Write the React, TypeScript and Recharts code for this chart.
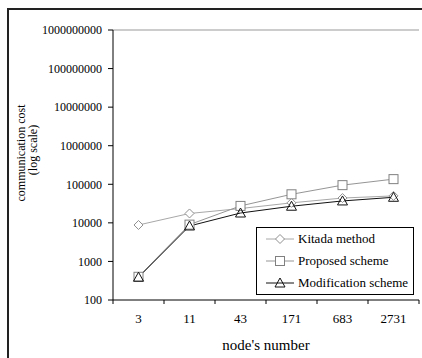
import React from 'react';
import { LineChart, Line, XAxis, YAxis, Legend, ReferenceLine } from 'recharts';

const nodes = ['3', '11', '43', '171', '683', '2731'];
const kitada = [8800, 17500, 23500, 33000, 44000, 50000];
const proposed = [400, 9000, 27500, 55000, 95000, 136000];
const modification = [390, 8300, 18000, 27000, 37000, 46000];
const yTicks = [1e2, 1e3, 1e4, 1e5, 1e6, 1e7, 1e8, 1e9];

const data = nodes.map((n, i) => ({
  node: n,
  kitada: kitada[i],
  proposed: proposed[i],
  modification: modification[i],
}));

const FONT = '"Liberation Serif", "Times New Roman", serif';
const HALF_BAND = 25.5;

type Shape = 'diamond' | 'square' | 'triangle';

const series: { key: string; name: string; line: string; mark: string; shape: Shape }[] = [
  { key: 'kitada', name: 'Kitada method', line: '#a8a8a8', mark: '#909090', shape: 'diamond' },
  { key: 'proposed', name: 'Proposed scheme', line: '#959595', mark: '#808080', shape: 'square' },
  { key: 'modification', name: 'Modification scheme', line: '#111', mark: '#111', shape: 'triangle' },
];

const Marker = ({ cx, cy, shape, color }: { cx: number; cy: number; shape: Shape; color: string }) => {
  if (shape === 'diamond') {
    return (
      <polygon
        points={`${cx},${cy - 4.5} ${cx + 4.5},${cy} ${cx},${cy + 4.5} ${cx - 4.5},${cy}`}
        fill="#fff"
        stroke={color}
      />
    );
  }
  if (shape === 'square') {
    return <rect x={cx - 4.5} y={cy - 4.5} width={9} height={9} fill="#fff" stroke={color} />;
  }
  return (
    <polygon
      points={`${cx},${cy - 5} ${cx + 5},${cy + 4} ${cx - 5},${cy + 4}`}
      fill="none"
      stroke={color}
    />
  );
};

const NodeTick = (props: any) => {
  const { x, y, payload, index } = props;
  return (
    <g>
      <line x1={x - HALF_BAND} x2={x - HALF_BAND} y1={y} y2={y + 4} stroke="#000" />
      {index === nodes.length - 1 && (
        <line x1={x + HALF_BAND} x2={x + HALF_BAND} y1={y} y2={y + 4} stroke="#000" />
      )}
      <text x={x} y={y + 18} textAnchor="middle" dominantBaseline="central" fontSize={13} fontFamily={FONT} fill="#000">
        {payload.value}
      </text>
    </g>
  );
};

const LegendBox = () => (
  <div
    style={{
      width: 156,
      height: 66,
      border: '1px solid #000',
      background: '#fff',
      fontFamily: FONT,
      fontSize: 13,
      color: '#000',
    }}
  >
    {series.map((s) => (
      <div key={s.key} style={{ height: 22, display: 'flex', alignItems: 'center' }}>
        <svg width={41} height={22} style={{ display: 'block' }}>
          <line x1={9} x2={37} y1={11} y2={11} stroke={s.line} />
          <Marker cx={23} cy={11} shape={s.shape} color={s.mark} />
        </svg>
        <span style={{ whiteSpace: 'nowrap' }}>{s.name}</span>
      </div>
    ))}
  </div>
);

export default function App() {
  return (
    <div style={{ position: 'absolute', left: 0, top: 0, width: 422, height: 358, fontFamily: FONT }}>
      <div
        style={{
          position: 'absolute',
          left: 7,
          top: 8,
          width: 415,
          height: 350,
          boxSizing: 'border-box',
          borderTop: '2px solid #222',
          borderLeft: '2px solid #222',
        }}
      />
      <div style={{ position: 'absolute', left: 0, top: 0 }}>
        <LineChart width={422} height={358} data={data} margin={{ top: 30, right: 3, bottom: 0, left: 0 }}>
          <XAxis
            dataKey="node"
            scale="band"
            interval={0}
            height={58}
            tickLine={false}
            tickSize={0}
            tickMargin={0}
            axisLine={{ stroke: '#000' }}
            tick={<NodeTick />}
            label={{
              content: () => (
                <text x={266} y={345} textAnchor="middle" dominantBaseline="central" fontSize={15} fontFamily={FONT} fill="#000">
                  node's number
                </text>
              ),
            }}
          />
          <YAxis
            scale="log"
            domain={[100, 1e9]}
            ticks={yTicks}
            allowDataOverflow
            interval={0}
            width={113}
            tickSize={5}
            tickMargin={6}
            axisLine={{ stroke: '#000' }}
            tickLine={{ stroke: '#000' }}
            tick={{ fill: '#000', fontSize: 12, fontFamily: FONT }}
            tickFormatter={(v: number) => String(v)}
            label={{
              content: () => (
                <g fontFamily={FONT} fontSize={12} fill="#000">
                  <text x={21} y={153} transform="rotate(-90 21 153)" textAnchor="middle" dominantBaseline="central">
                    communication cost
                  </text>
                  <text x={33} y={150} transform="rotate(-90 33 150)" textAnchor="middle" dominantBaseline="central">
                    (log scale)
                  </text>
                </g>
              ),
            }}
          />
          <YAxis
            yAxisId="right"
            orientation="right"
            scale="log"
            domain={[100, 1e9]}
            allowDataOverflow
            width={0}
            tick={false}
            tickLine={false}
            axisLine={{ stroke: '#999' }}
          />
          <ReferenceLine y={1e9} stroke="#999" />
          {series.map((s) => (
            <Line
              key={s.key}
              dataKey={s.key}
              name={s.name}
              stroke={s.line}
              strokeWidth={1}
              isAnimationActive={false}
              activeDot={false}
              dot={(p: any) => <Marker key={`${s.key}-${p.index}`} cx={p.cx} cy={p.cy} shape={s.shape} color={s.mark} />}
            />
          ))}
          <Legend
            layout="vertical"
            align="center"
            verticalAlign="middle"
            content={() => <LegendBox />}
            wrapperStyle={{ left: 256, top: 227, width: 'auto', height: 'auto' }}
          />
        </LineChart>
      </div>
    </div>
  );
}
